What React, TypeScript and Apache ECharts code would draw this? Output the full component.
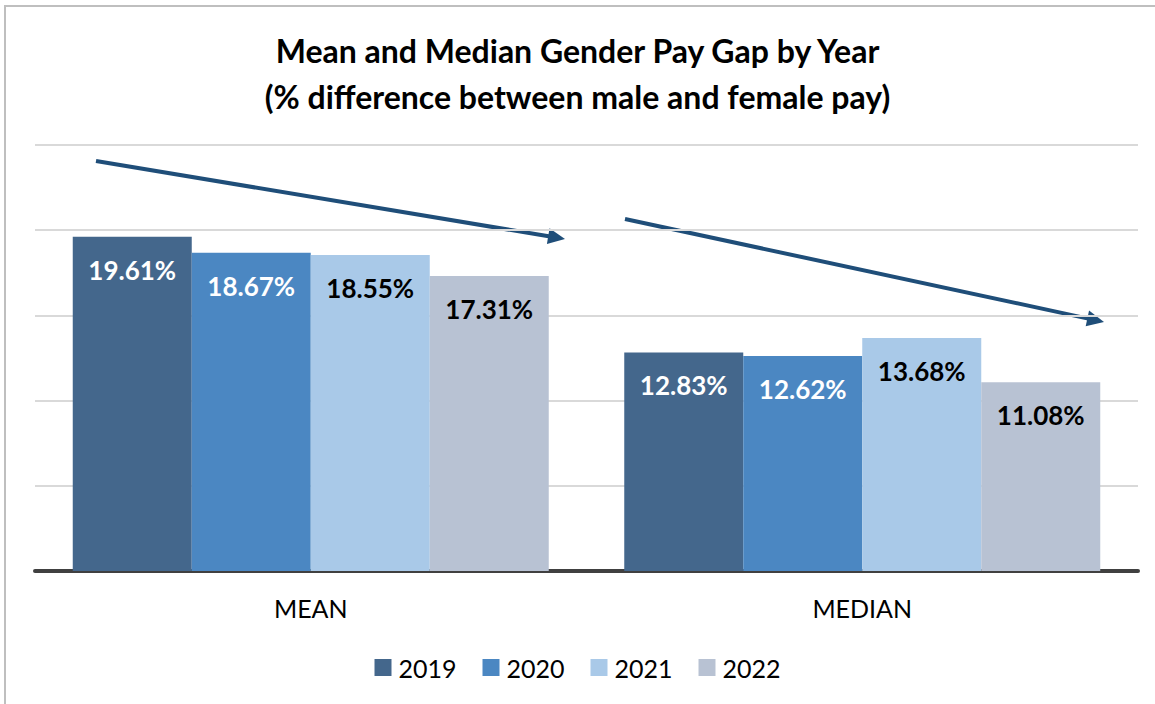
import React, { useEffect, useRef } from "react";
import * as echarts from "echarts";

const categories = ["MEAN", "MEDIAN"];
const years = ["2019", "2020", "2021", "2022"];
const values2019 = [19.61, 12.83];
const values2020 = [18.67, 12.62];
const values2021 = [18.55, 13.68];
const values2022 = [17.31, 11.08];
const yTicks = [0, 5, 10, 15, 20, 25];

const seriesValues = [values2019, values2020, values2021, values2022];
const colors = ["#44678C", "#4B87C2", "#A9C9E8", "#B8C2D3"];
const labelColors = ["#FFFFFF", "#FFFFFF", "#000000", "#000000"];
const FONT = "Lato, 'Open Sans', sans-serif";

function arrow(x1: number, y1: number, x2: number, y2: number) {
  const dx = x2 - x1;
  const dy = y2 - y1;
  const len = Math.sqrt(dx * dx + dy * dy);
  const ux = dx / len;
  const uy = dy / len;
  const nx = -uy;
  const ny = ux;
  const hl = 17;
  const hw = 8;
  const bx = x2 - hl * ux;
  const by = y2 - hl * uy;
  return [
    {
      type: "line",
      shape: { x1, y1, x2: bx + 2 * ux, y2: by + 2 * uy },
      style: { stroke: "#1F4E79", lineWidth: 4 },
      silent: true,
    },
    {
      type: "polygon",
      shape: {
        points: [
          [x2, y2],
          [bx + hw * nx, by + hw * ny],
          [bx - hw * nx, by - hw * ny],
        ],
      },
      style: { fill: "#1F4E79" },
      silent: true,
    },
  ];
}

export default function App() {
  const ref = useRef<HTMLDivElement>(null);
  useEffect(() => {
    if (!ref.current) return;
    const chart = echarts.init(ref.current, null, { renderer: "svg" });
    chart.setOption({
      animation: false,
      backgroundColor: "#FFFFFF",
      title: {
        text: "Mean and Median Gender Pay Gap by Year\n(% difference between male and female pay)",
        left: "center",
        top: 22,
        textStyle: {
          fontFamily: FONT,
          fontWeight: "bold",
          fontSize: 32,
          lineHeight: 46,
          color: "#000000",
        },
      },
      legend: {
        data: years,
        bottom: 19,
        left: "center",
        icon: "rect",
        itemWidth: 17,
        itemHeight: 17,
        itemGap: 26,
        textStyle: {
          fontFamily: FONT,
          fontSize: 25,
          color: "#000000",
          padding: [0, 0, 0, 2],
        },
      },
      grid: { left: 35, right: 17, top: 145, bottom: 133, containLabel: false },
      xAxis: {
        type: "category",
        data: categories,
        axisLine: { lineStyle: { color: "#404040", width: 4 } },
        axisTick: { show: false },
        axisLabel: {
          margin: 24,
          fontFamily: FONT,
          fontSize: 25,
          color: "#000000",
        },
      },
      yAxis: {
        type: "value",
        min: yTicks[0],
        max: yTicks[yTicks.length - 1],
        interval: 5,
        axisLabel: { show: false },
        axisLine: { show: false },
        axisTick: { show: false },
        splitLine: { lineStyle: { color: "#D9D9D9", width: 2 } },
      },
      series: years.map((y, i) => ({
        name: y,
        type: "bar",
        data: seriesValues[i],
        barWidth: 119,
        barGap: "0%",
        itemStyle: { color: colors[i] },
        label: {
          show: true,
          position: "insideTop",
          distance: 20,
          formatter: (p: any) => p.value.toFixed(2) + "%",
          fontFamily: FONT,
          fontWeight: "bold",
          fontSize: 26,
          color: labelColors[i],
        },
      })),
      graphic: [
        {
          type: "rect",
          shape: { x: 5, y: 6, width: 1170, height: 720 },
          style: { fill: "none", stroke: "#BFBFBF", lineWidth: 2 },
          silent: true,
          z: 100,
        },
        ...arrow(96, 161, 565, 239),
        ...arrow(625, 219, 1104, 322),
      ],
    });
    return () => chart.dispose();
  }, []);
  return (
    <div
      ref={ref}
      style={{ position: "fixed", left: 0, top: 0, width: 1155, height: 704 }}
    />
  );
}
